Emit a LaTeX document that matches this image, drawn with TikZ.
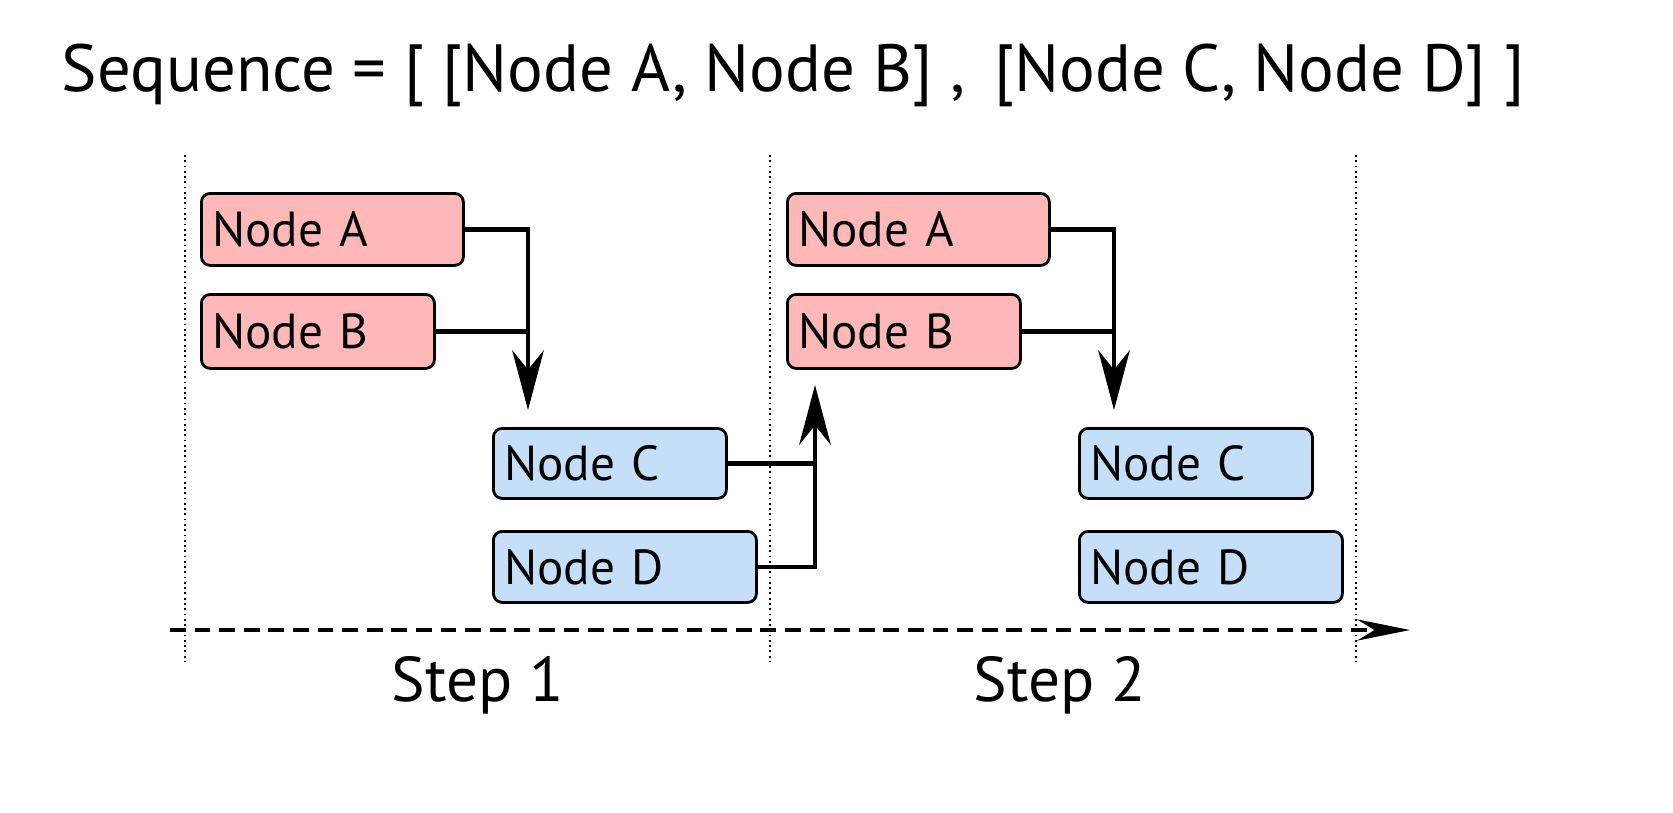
\documentclass[tikz,border=0pt]{standalone}
\usepackage{fontspec}
\setmainfont{PT Sans}
\usetikzlibrary{arrows.meta}
\definecolor{redbox}{HTML}{FFB8B8}
\definecolor{bluebox}{HTML}{C5DFF8}
\tikzset{
  box/.style={draw, line width=1.6pt, rounded corners=5pt, anchor=north west, inner sep=0pt, font=\fontsize{28}{30}\selectfont, text depth=0pt, align=left},
  redb/.style={box, fill=redbox},
  blueb/.style={box, fill=bluebox},
  link/.style={line width=2.6pt, -{Stealth[length=34pt,width=18pt]}},
  plain/.style={line width=2.6pt}
}
\begin{document}
\begin{tikzpicture}[x=0.02cm,y=-0.02cm]
\useasboundingbox (0,0) rectangle (1673,812);
\node at (793,75) {\fontsize{38}{40}\selectfont Sequence = [ [Node A, Node B] ,\, [Node C, Node D] ]};
% step separators
\foreach \x in {185,770,1356}
  \draw[dotted, line width=1pt] (\x,155) -- (\x,662);
\draw[dash pattern=on 9pt off 5pt, line width=2.6pt, -{Stealth[length=30pt,width=12pt]}] (170,630) -- (1410,630);
\node[font=\fontsize{36}{38}\selectfont] at (478,685) {Step 1};
\node[font=\fontsize{36}{38}\selectfont] at (1060,685) {Step 2};
% boxes
\foreach \o/\s in {0/1,586/2}{
  \node[redb, minimum width=262*0.02cm, minimum height=72*0.02cm, text width=240*0.02cm] (a\s) at (200+\o,192) {Node A};
  \node[redb, minimum width=233*0.02cm, minimum height=74*0.02cm, text width=211*0.02cm] (b\s) at (200+\o,293) {Node B};
  \node[blueb, minimum width=233*0.02cm, minimum height=70*0.02cm, text width=211*0.02cm] (c\s) at (492+\o,427) {Node C};
  \node[blueb, minimum width=263*0.02cm, minimum height=71*0.02cm, text width=241*0.02cm] (d\s) at (492+\o,530) {Node D};
}
\coordinate (e1) at (528,410);
\coordinate (e2) at (1114,410);
\coordinate (f1) at (815,385);
% connectors
\foreach \s in {1,2}{
  \draw[link] (a\s.east) -| (e\s);
  \draw[plain] (b\s.east) -- ++(92,0);
}
\draw[link] (d1.east) -| (f1);
\draw[plain] (c1.east) -- ++(87,0);
\end{tikzpicture}
\end{document}
